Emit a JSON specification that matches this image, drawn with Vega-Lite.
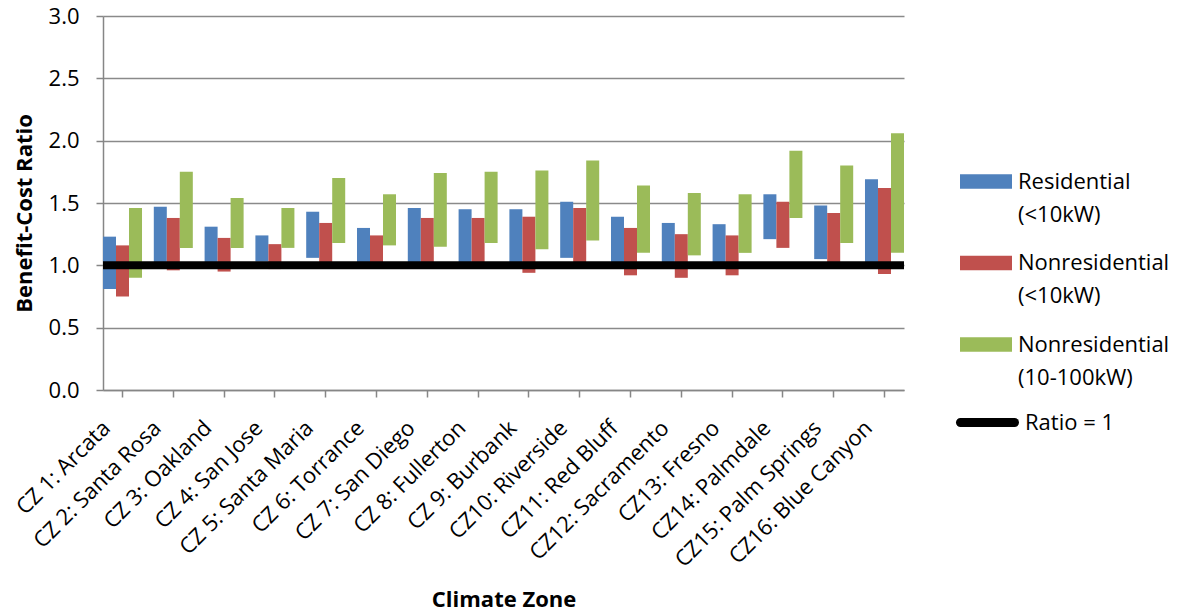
{
  "$schema": "https://vega.github.io/schema/vega-lite/v6.json",
  "width": 801,
  "height": 374,
  "autosize": "none",
  "padding": {"left": 103, "top": 16, "right": 282, "bottom": 226},
  "config": {
    "font": "Open Sans",
    "view": {"stroke": null},
    "axis": {
      "domainColor": "#868686",
      "domainWidth": 1.5,
      "tickColor": "#868686",
      "tickWidth": 1.5,
      "tickSize": 7,
      "gridColor": "#8a8a8a",
      "gridWidth": 1.5,
      "labelColor": "#000000",
      "labelFontSize": 22,
      "titleColor": "#000000",
      "titleFontSize": 22,
      "titleFontWeight": "bold"
    }
  },
  "data": {
    "values": [
      {"zone": "CZ 1: Arcata", "series": "Residential (<10kW)", "low": 0.81, "high": 1.23},
      {"zone": "CZ 1: Arcata", "series": "Nonresidential (<10kW)", "low": 0.75, "high": 1.16},
      {"zone": "CZ 1: Arcata", "series": "Nonresidential (10-100kW)", "low": 0.90, "high": 1.46},
      {"zone": "CZ 2: Santa Rosa", "series": "Residential (<10kW)", "low": 0.99, "high": 1.47},
      {"zone": "CZ 2: Santa Rosa", "series": "Nonresidential (<10kW)", "low": 0.96, "high": 1.38},
      {"zone": "CZ 2: Santa Rosa", "series": "Nonresidential (10-100kW)", "low": 1.14, "high": 1.75},
      {"zone": "CZ 3: Oakland", "series": "Residential (<10kW)", "low": 1.00, "high": 1.31},
      {"zone": "CZ 3: Oakland", "series": "Nonresidential (<10kW)", "low": 0.95, "high": 1.22},
      {"zone": "CZ 3: Oakland", "series": "Nonresidential (10-100kW)", "low": 1.14, "high": 1.54},
      {"zone": "CZ 4: San Jose", "series": "Residential (<10kW)", "low": 1.03, "high": 1.24},
      {"zone": "CZ 4: San Jose", "series": "Nonresidential (<10kW)", "low": 0.97, "high": 1.17},
      {"zone": "CZ 4: San Jose", "series": "Nonresidential (10-100kW)", "low": 1.14, "high": 1.46},
      {"zone": "CZ 5: Santa Maria", "series": "Residential (<10kW)", "low": 1.06, "high": 1.43},
      {"zone": "CZ 5: Santa Maria", "series": "Nonresidential (<10kW)", "low": 1.00, "high": 1.34},
      {"zone": "CZ 5: Santa Maria", "series": "Nonresidential (10-100kW)", "low": 1.18, "high": 1.70},
      {"zone": "CZ 6: Torrance", "series": "Residential (<10kW)", "low": 1.00, "high": 1.30},
      {"zone": "CZ 6: Torrance", "series": "Nonresidential (<10kW)", "low": 1.00, "high": 1.24},
      {"zone": "CZ 6: Torrance", "series": "Nonresidential (10-100kW)", "low": 1.16, "high": 1.57},
      {"zone": "CZ 7: San Diego", "series": "Residential (<10kW)", "low": 1.02, "high": 1.46},
      {"zone": "CZ 7: San Diego", "series": "Nonresidential (<10kW)", "low": 1.00, "high": 1.38},
      {"zone": "CZ 7: San Diego", "series": "Nonresidential (10-100kW)", "low": 1.15, "high": 1.74},
      {"zone": "CZ 8: Fullerton", "series": "Residential (<10kW)", "low": 1.02, "high": 1.45},
      {"zone": "CZ 8: Fullerton", "series": "Nonresidential (<10kW)", "low": 1.00, "high": 1.38},
      {"zone": "CZ 8: Fullerton", "series": "Nonresidential (10-100kW)", "low": 1.18, "high": 1.75},
      {"zone": "CZ 9: Burbank", "series": "Residential (<10kW)", "low": 1.01, "high": 1.45},
      {"zone": "CZ 9: Burbank", "series": "Nonresidential (<10kW)", "low": 0.94, "high": 1.39},
      {"zone": "CZ 9: Burbank", "series": "Nonresidential (10-100kW)", "low": 1.13, "high": 1.76},
      {"zone": "CZ10: Riverside", "series": "Residential (<10kW)", "low": 1.06, "high": 1.51},
      {"zone": "CZ10: Riverside", "series": "Nonresidential (<10kW)", "low": 1.00, "high": 1.46},
      {"zone": "CZ10: Riverside", "series": "Nonresidential (10-100kW)", "low": 1.20, "high": 1.84},
      {"zone": "CZ11: Red Bluff", "series": "Residential (<10kW)", "low": 1.00, "high": 1.39},
      {"zone": "CZ11: Red Bluff", "series": "Nonresidential (<10kW)", "low": 0.92, "high": 1.30},
      {"zone": "CZ11: Red Bluff", "series": "Nonresidential (10-100kW)", "low": 1.10, "high": 1.64},
      {"zone": "CZ12: Sacramento", "series": "Residential (<10kW)", "low": 1.00, "high": 1.34},
      {"zone": "CZ12: Sacramento", "series": "Nonresidential (<10kW)", "low": 0.90, "high": 1.25},
      {"zone": "CZ12: Sacramento", "series": "Nonresidential (10-100kW)", "low": 1.08, "high": 1.58},
      {"zone": "CZ13: Fresno", "series": "Residential (<10kW)", "low": 1.00, "high": 1.33},
      {"zone": "CZ13: Fresno", "series": "Nonresidential (<10kW)", "low": 0.92, "high": 1.24},
      {"zone": "CZ13: Fresno", "series": "Nonresidential (10-100kW)", "low": 1.10, "high": 1.57},
      {"zone": "CZ14: Palmdale", "series": "Residential (<10kW)", "low": 1.21, "high": 1.57},
      {"zone": "CZ14: Palmdale", "series": "Nonresidential (<10kW)", "low": 1.14, "high": 1.51},
      {"zone": "CZ14: Palmdale", "series": "Nonresidential (10-100kW)", "low": 1.38, "high": 1.92},
      {"zone": "CZ15: Palm Springs", "series": "Residential (<10kW)", "low": 1.05, "high": 1.48},
      {"zone": "CZ15: Palm Springs", "series": "Nonresidential (<10kW)", "low": 1.00, "high": 1.42},
      {"zone": "CZ15: Palm Springs", "series": "Nonresidential (10-100kW)", "low": 1.18, "high": 1.80},
      {"zone": "CZ16: Blue Canyon", "series": "Residential (<10kW)", "low": 1.00, "high": 1.69},
      {"zone": "CZ16: Blue Canyon", "series": "Nonresidential (<10kW)", "low": 0.93, "high": 1.62},
      {"zone": "CZ16: Blue Canyon", "series": "Nonresidential (10-100kW)", "low": 1.10, "high": 2.06}
    ]
  },
  "layer": [
    {
      "mark": {"type": "bar"},
      "encoding": {
        "x": {
          "field": "zone",
          "type": "nominal",
          "sort": null,
          "scale": {"paddingInner": 0.232, "paddingOuter": 0},
          "axis": {
            "title": "Climate Zone",
            "titleY": 209,
            "titleBaseline": "middle",
            "labelAngle": -45,
            "labelPadding": 20,
            "labelOffset": -23,
            "labelLimit": 300,
            "ticks": true,
            "grid": false
          }
        },
        "xOffset": {
          "field": "series",
          "sort": ["Residential (<10kW)", "Nonresidential (<10kW)", "Nonresidential (10-100kW)"]
        },
        "y": {
          "field": "low",
          "type": "quantitative",
          "scale": {"domain": [0, 3]},
          "axis": {
            "title": "Benefit-Cost Ratio",
            "titleY": 197,
            "values": [0, 0.5, 1, 1.5, 2, 2.5, 3],
            "format": ".1f",
            "labelPadding": 17,
            "titlePadding": 12,
            "grid": true
          }
        },
        "y2": {"field": "high"},
        "fill": {
          "field": "series",
          "type": "nominal",
          "scale": {
            "domain": ["Residential (<10kW)", "Nonresidential (<10kW)", "Nonresidential (10-100kW)"],
            "range": ["#4F81BD", "#C0504D", "#9BBB59"]
          },
          "legend": {
            "title": null,
            "orient": "none",
            "legendX": 857,
            "legendY": 139.5,
            "symbolType": "M-1,-0.28H1V0.28H-1Z",
            "symbolSize": 2704,
            "symbolStrokeWidth": 0,
            "labelFontSize": 22,
            "labelColor": "#000000",
            "labelOffset": 6,
            "labelLimit": 300,
            "labelExpr": "split(datum.label, ' ')",
            "rowPadding": 11.5,
            "encode": {"labels": {"update": {"lineHeight": {"value": 33}}}}
          }
        }
      }
    },
    {
      "data": {"values": [{"label": "Ratio = 1", "ratio": 1}]},
      "mark": {"type": "rule", "strokeWidth": 8, "strokeCap": "butt"},
      "encoding": {
        "y": {"field": "ratio", "type": "quantitative"},
        "stroke": {
          "field": "label",
          "type": "nominal",
          "scale": {"range": ["#000000"]},
          "legend": {
            "title": null,
            "orient": "none",
            "legendX": 853,
            "legendY": 375,
            "symbolType": "stroke",
            "symbolSize": 2916,
            "symbolStrokeWidth": 9,
            "labelFontSize": 22,
            "labelColor": "#000000",
            "labelOffset": 6,
            "encode": {"symbols": {"update": {"strokeCap": {"value": "round"}}}}
          }
        }
      }
    }
  ]
}
